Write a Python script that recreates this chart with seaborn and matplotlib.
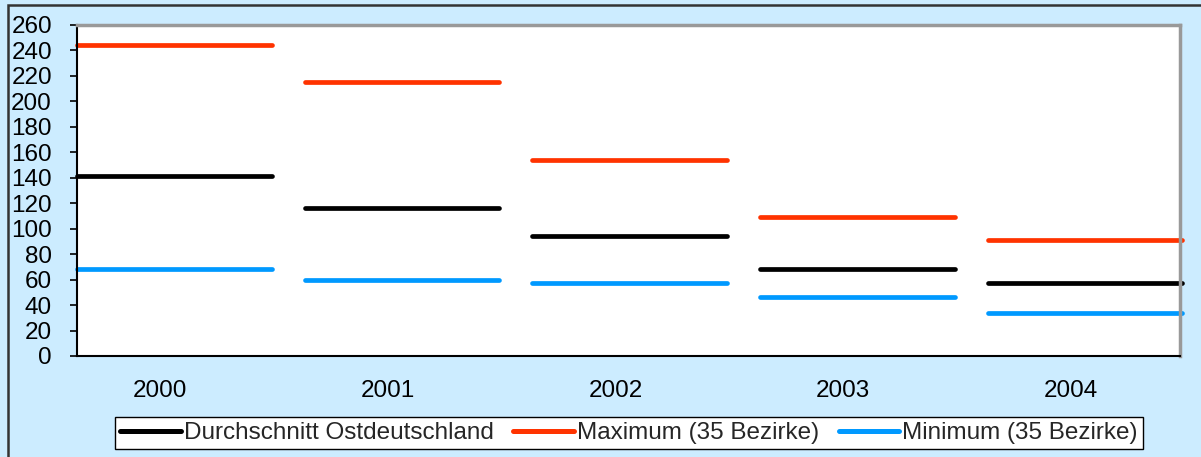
import matplotlib
matplotlib.use("Agg")
import matplotlib.pyplot as plt
from matplotlib.lines import Line2D
from matplotlib.patches import Rectangle
import pandas as pd
import seaborn as sns

# ── data ──────────────────────────────────────────────────────────────
years     = ["2000", "2001", "2002", "2003", "2004"]
mean_vals = [141, 116, 94, 68, 57]      # Durchschnitt Ostdeutschland
max_vals  = [244, 215, 154, 109, 91]    # Maximum (35 Bezirke)
min_vals  = [68, 60, 57, 46, 34]        # Minimum (35 Bezirke)

series = {
    "Durchschnitt Ostdeutschland": (mean_vals, "#000000"),
    "Maximum (35 Bezirke)":        (max_vals,  "#FF3300"),
    "Minimum (35 Bezirke)":        (min_vals,  "#0099FF"),
}

# each year is drawn as a flat segment across its category slot
SEG_LEFT, SEG_RIGHT = -0.365, 0.49

rows = []
for name, (vals, _) in series.items():
    for i, v in enumerate(vals):
        rows.append({"series": name, "seg": i, "x": i + SEG_LEFT, "y": v})
        rows.append({"series": name, "seg": i, "x": i + SEG_RIGHT, "y": v})
df = pd.DataFrame(rows)

sns.set_theme(style="white")
plt.rcParams["font.family"] = ["Liberation Sans", "DejaVu Sans"]

BG = "#CCECFF"
FS = 17.5
fig = plt.figure(figsize=(12.01, 4.57), dpi=100, facecolor=BG)
ax = fig.add_axes([77 / 1201, 1 - 356 / 457, (1180 - 77) / 1201, (356 - 25) / 457])
ax.set_facecolor("white")

palette = {name: c for name, (_, c) in series.items()}
sns.lineplot(data=df, x="x", y="y", hue="series", units="seg", estimator=None,
             palette=palette, linewidth=3.4, legend=False, ax=ax)
for ln in ax.lines:
    ln.set_solid_capstyle("round")
    ln.set_clip_on(False)

ax.set_xlim(SEG_LEFT, len(years) - 1 + 0.48)
ax.set_ylim(0, 260)
ax.set_yticks(range(0, 261, 20))
ax.set_xticks(range(len(years)))
ax.set_xticklabels(years)
ax.set_xlabel("")
ax.set_ylabel("")
ax.tick_params(axis="x", length=0, pad=17, labelsize=FS, colors="black")
ax.tick_params(axis="y", left=True, length=5, width=1.2, direction="out",
               pad=13, labelsize=FS, colors="black")

for side in ("left", "bottom"):
    ax.spines[side].set_color("black")
    ax.spines[side].set_linewidth(1.5)
for side in ("top", "right"):
    ax.spines[side].set_color("#999999")
    ax.spines[side].set_linewidth(2.5)

# outer chart frame (only top and left edges fall inside the image)
fig.patches.append(Rectangle((8 / 1201, -0.1), 1.2, 1 - 5 / 457 + 0.1,
                             transform=fig.transFigure, fill=False,
                             edgecolor="#333333", linewidth=1.8))

handles = [Line2D([0], [0], color=c, linewidth=3.6, solid_capstyle="round")
           for _, (_, c) in series.items()]
leg = fig.legend(handles, list(series.keys()), loc="center",
                 bbox_to_anchor=(629 / 1201, 1 - 433 / 457), ncol=3,
                 fontsize=FS, frameon=True, fancybox=False, framealpha=1,
                 edgecolor="black", handlelength=2.5, handletextpad=0.12,
                 columnspacing=0.8, borderpad=0.2, borderaxespad=0)
leg.get_frame().set_linewidth(1.0)

fig.savefig("out.png", dpi=100, facecolor=BG)
